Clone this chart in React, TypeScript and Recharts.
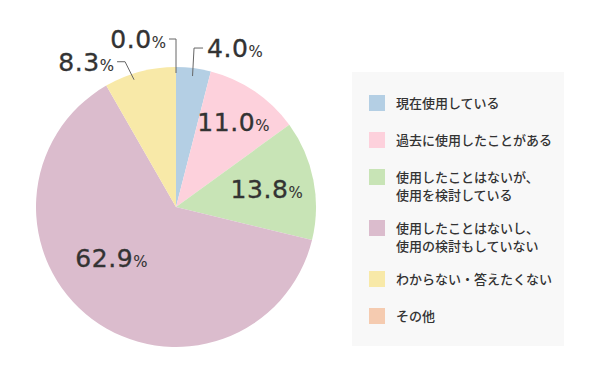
import React from 'react'
import { PieChart, Pie, Cell, Legend } from 'recharts'

const categories = [
  '現在使用している',
  '過去に使用したことがある',
  '使用したことはないが、\n使用を検討している',
  '使用したことはないし、\n使用の検討もしていない',
  'わからない・答えたくない',
  'その他'
]

const shares = [4.0, 11.0, 13.8, 62.9, 8.3, 0.0]

const COLORS = ['#b4cfe4', '#fdd1dc', '#c8e4b6', '#dbbccd', '#f8e9a8', '#f5cbb0']

const data = categories.map((name, i) => ({ name, value: shares[i] }))

// label placement per slice (inside: radius factor, outside: leader line)
const LABEL_PLACE: any[] = [
  { out: true, r: 132, da: 0, ex: 1.5, ey: -28, len: 9 },
  { r: 0.73, da: 0 },
  { r: 0.66, da: 0 },
  { r: 0.586, da: -15 },
  { out: true, r: 134, da: 3.3, ex: -9, ey: -18, len: -8 },
  { out: true, r: 134, da: 0, ex: 0, ey: -34, len: -7 }
]

const RAD = Math.PI / 180
const NUM_FONT = '"DejaVu Sans", sans-serif'

const polar = (cx: number, cy: number, r: number, angle: number) => [
  cx + r * Math.cos(-angle * RAD),
  cy + r * Math.sin(-angle * RAD)
]

const Num = ({ txt }: { txt: string }) => (
  <>
    <tspan fontSize={25} letterSpacing={0.6}>{txt}</tspan>
    <tspan fontSize={15} strokeWidth={0.1}>%</tspan>
  </>
)

const renderLabel = (props: any) => {
  const { cx, cy, midAngle, outerRadius, index, value } = props
  const place = LABEL_PLACE[index]
  const txt = Number(value).toFixed(1)
  const angle = midAngle + place.da
  const textProps = { fill: '#333', stroke: '#333', strokeWidth: 0.35, fontFamily: NUM_FONT }
  if (!place.out) {
    const [x, y] = polar(cx, cy, outerRadius * place.r, angle)
    return (
      <text x={x} y={y + 9} textAnchor="middle" {...textProps}>
        <Num txt={txt} />
      </text>
    )
  }
  const [x0, y0] = polar(cx, cy, place.r, angle)
  const x1 = x0 + place.ex
  const y1 = y0 + place.ey
  const x2 = x1 + place.len
  const right = place.len > 0
  return (
    <g>
      <polyline points={`${x0},${y0} ${x1},${y1} ${x2},${y1}`} fill="none" stroke="#666" strokeWidth={1} />
      <text x={x2 + (right ? 4 : -3)} y={y1 + 9} textAnchor={right ? 'start' : 'end'} {...textProps}>
        <Num txt={txt} />
      </text>
    </g>
  )
}

const LegendBox = () => (
  <div
    style={{
      width: 212,
      height: 274,
      boxSizing: 'border-box',
      background: '#f8f8f8',
      padding: '22px 0 0 17px',
      fontFamily: '"Noto Sans CJK JP", sans-serif',
      fontSize: 13,
      fontWeight: 500,
      color: '#333',
      display: 'flex',
      flexDirection: 'column',
      gap: 15
    }}
  >
    {categories.map((name, i) => (
      <div key={i} style={{ display: 'flex', alignItems: 'flex-start', minHeight: 22 }}>
        <div style={{ width: 16, height: 16, marginTop: 1, background: COLORS[i], flexShrink: 0 }} />
        <div style={{ marginLeft: 11, lineHeight: '18px', whiteSpace: 'pre-line' }}>{name}</div>
      </div>
    ))}
  </div>
)

export default function App() {
  return (
    <div style={{ position: 'absolute', left: 0, top: 0, width: 600, height: 371, background: '#fff' }}>
      <PieChart width={600} height={371} margin={{ top: 0, right: 0, bottom: 0, left: 0 }}>
        <Pie
          data={data}
          dataKey="value"
          nameKey="name"
          cx={176}
          cy={207}
          outerRadius={140}
          startAngle={90}
          endAngle={-270}
          stroke="none"
          label={renderLabel}
          labelLine={false}
          isAnimationActive={false}
        >
          {data.map((entry, index) => (
            <Cell key={`cell-${index}`} fill={COLORS[index % COLORS.length]} />
          ))}
        </Pie>
        <Legend
          content={() => <LegendBox />}
          wrapperStyle={{ left: 352, top: 72, width: 212, height: 274 }}
        />
      </PieChart>
    </div>
  )
}
